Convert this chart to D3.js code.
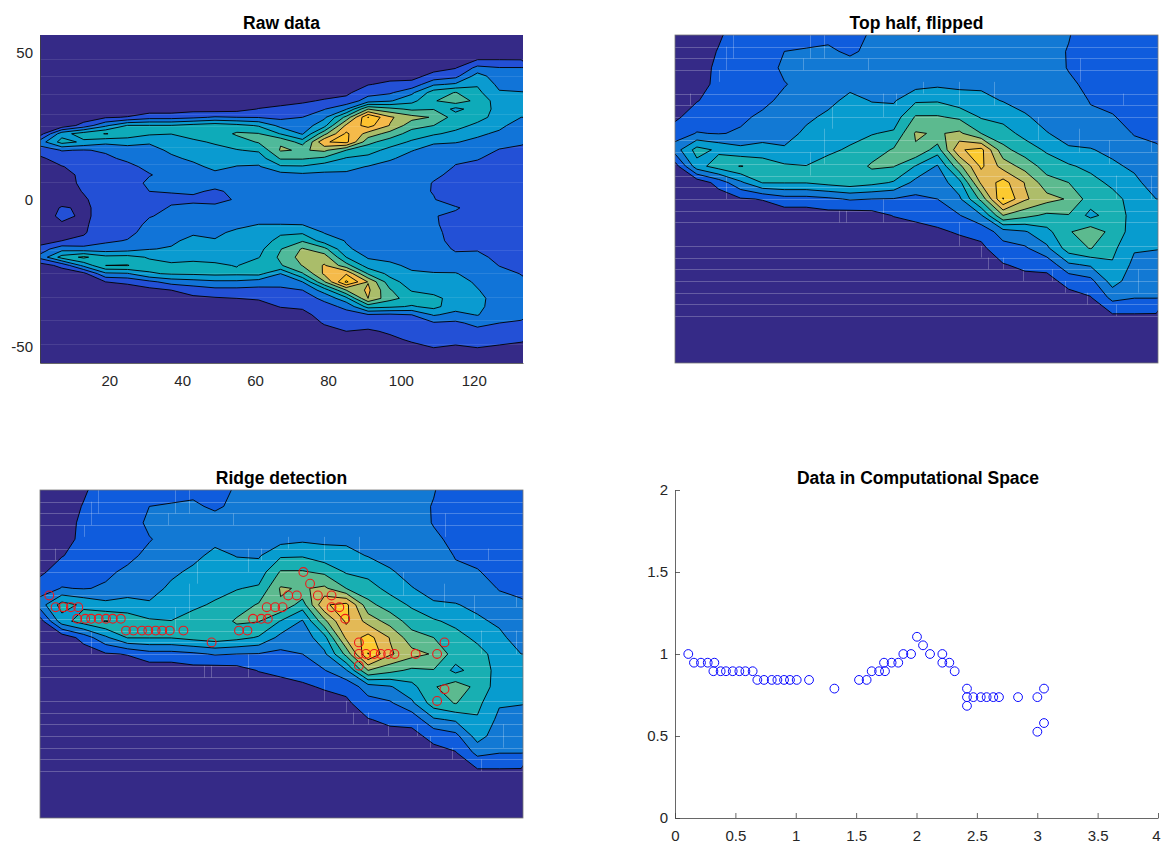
<!DOCTYPE html>
<html>
<head>
<meta charset="utf-8">
<script src="https://cdn.jsdelivr.net/npm/d3@7"></script>
<style>
    body { margin: 0; background: #fff; }
    svg { display: block; font-family: "Liberation Sans", Arial, sans-serif; }
    .title { font-size: 17.5px; font-weight: bold; text-anchor: middle; fill: #000; }
    .axis text { font-size: 15px; fill: #262626; }
    .axis path, .axis line { stroke: #404040; stroke-width: 0.8; }
</style>
</head>
<body>
<div id="chart"></div>
<script>
// Contour heights per column, x = 1, 7, 13 ... 133. Each column runs from y = 0 upward in steps of 2.8
const top_half_columns = [
    [.4,.4,.4,.3,.5,.8,1.5,2.5,.5],
    [.5,.6,.6,.7,.95,1.5,2.05,4.4,3.6,.3],
    [.9,1.05,1.2,1.2,1.4,1.7,1.95,3.8,4.5,1.4,.4],
    [1.4,1.4,1.5,1.6,1.7,1.85,2.1,3.3,5.05,2.8,.9,.3],
    [1.4,1.45,1.5,1.6,1.8,2.15,2.5,3.4,4.6,4.05,1.05,.4],
    [1.7,2.0,2.2,1.95,2.2,2.4,2.7,3.1,4.15,4.05,1.6,.4],
    [1.8,2.05,2.2,2.3,2.5,2.85,3.15,3.5,4.02,4.05,1.6,.4],
    [1.85,2.1,2.3,2.5,2.8,3.15,3.4,3.85,4.3,4.35,1.8,.6],
    [1.7,1.9,2.25,2.8,3.2,3.4,3.75,4.1,4.4,4.6,2.1,.5],
    [2.1,2.15,2.3,2.6,2.97,3.3,3.95,4.5,5.15,4.3,2.0,.6],
    [2.1,2.2,2.4,2.65,2.9,3.45,4.15,5.1,5.05,3.9,1.95,1.05,.4],
    [2.2,2.25,2.45,2.6,3.85,5.1,6.1,5.9,3.95,2.7,1.75,1.2,.7,.4],
    [2.2,2.3,2.5,2.8,3.9,5.1,5.9,4.5,2.9,2.4,2.0,1.4,.85,.4],
    [2.2,2.3,2.5,2.8,3.4,4.8,6.2,7.9,5.7,3.65,2.8,1.95,1.1,.6,.3],
    [2.2,2.3,2.5,2.8,3.3,3.9,5.0,8.3,8.2,7.2,5.3,2.9,1.3,.8,.4],
    [2.3,2.4,2.55,2.75,2.95,3.7,4.4,5.3,6.6,8.4,9.05,6.0,2.5,1.6,.95,.4],
    [2.3,2.4,2.5,2.65,2.85,3.05,3.7,4.5,5.6,6.95,7.15,5.3,2.9,1.85,1.2,.7,.4],
    [2.25,2.3,2.4,2.55,2.7,2.85,3.02,3.85,4.55,5.4,6.35,4.8,3.7,2.8,1.3,.7,.4],
    [2.05,1.95,1.95,2.15,2.45,2.7,2.85,3.05,4.15,5.0,5.9,4.95,4.9,4.5,2.85,1.3,.7,.3],
    [1.5,1.6,1.7,1.8,1.95,2.15,2.55,3.05,3.7,4.4,4.5,3.7,5.6,5.05,3.15,1.7,.95,.4],
    [1.4,1.45,1.5,1.6,1.8,2.05,2.4,2.8,3.15,3.75,4.4,4.5,4.7,4.25,3.9,3.45,2.3,1.0,.4],
    [1.3,1.35,1.4,1.45,1.55,1.75,1.95,2.3,2.85,3.2,3.55,3.7,3.5,3.1,2.75,2.4,2.05,1.0,.4],
    [1.2,1.25,1.3,1.35,1.45,1.6,1.85,2.1,2.3,2.6,3.0,3.2,3.15,3.05,2.6,2.3,2.05,.98,.4]
];

// Same columns for the lower half, from y = -2.8 downward
const bottom_half_columns = [
    [.3,.3,.3,.3,.4,1.5,2.3,.5],
    [1.1,1.3,.85,.7,1.0,2.6,4.4,1.3,.4],
    [.85,.8,.85,.9,1.2,2.4,5.2,3.3,.7],
    [1.3,1.4,1.5,1.6,1.85,2.4,4.3,5.0,2.8,1.0,.5],
    [1.35,1.45,1.55,1.75,2.05,2.55,4.35,5.05,2.9,1.2,.5],
    [1.6,1.95,2.2,2.35,2.6,2.95,3.9,4.35,3.9,1.75,.7,.4],
    [2.1,2.2,2.35,2.5,2.8,3.1,3.6,4.2,4.1,2.4,1.0,.5],
    [2.2,2.3,2.5,2.85,3.3,3.5,3.75,4.25,4.15,2.6,1.4,.8,.4],
    [2.25,2.4,2.6,2.85,3.05,3.4,3.7,4.15,4.25,2.8,1.7,.9,.4],
    [2.35,2.5,2.8,3.15,3.3,3.5,3.7,3.95,4.2,2.8,1.7,1.0,.5],
    [2.5,2.7,3.0,3.3,3.5,3.7,3.95,4.6,4.3,2.5,1.7,1.1,.6],
    [2.6,2.8,3.0,3.85,4.3,4.95,5.2,4.9,3.0,2.35,1.8,1.4,1.05,.5],
    [2.5,2.8,2.95,3.85,4.9,6.1,6.4,6.05,4.9,3.0,2.0,1.6,1.15,.7],
    [2.7,2.8,2.85,2.95,3.5,5.3,6.5,7.1,7.2,5.9,3.5,2.2,1.7,1.4,1.1,.6],
    [2.5,2.6,2.7,2.8,2.95,3.1,4.0,5.4,7.9,9.2,6.0,3.7,2.2,1.7,1.3,1.0,.5],
    [2.3,2.35,2.45,2.55,2.65,2.75,2.9,3.5,4.9,6.95,7.2,7.0,4.4,1.9,1.3,.9,.5],
    [2.1,2.15,2.2,2.3,2.45,2.6,2.8,3.15,3.7,4.4,5.1,5.3,4.2,1.8,1.4,1.1,.85,.4],
    [2.0,2.05,2.1,2.2,2.3,2.45,2.6,2.85,3.1,3.5,3.9,4.6,3.9,2.0,1.6,1.3,1.1,.8,.4],
    [2.05,2.05,2.05,2.1,2.1,2.2,2.4,2.7,3.05,3.4,3.75,4.2,4.3,3.1,1.9,1.5,1.2,1.0,.5,.3],
    [2.1,1.8,1.85,1.85,1.9,1.95,2.1,2.6,3.05,3.4,3.6,3.7,3.4,2.7,1.8,1.5,1.2,.9,.5,.3],
    [1.6,1.65,1.7,1.75,1.8,1.95,2.15,2.4,2.65,2.85,3.05,3.25,3.2,3.05,2.3,1.7,1.4,1.0,.5,.35],
    [1.4,1.45,1.5,1.55,1.6,1.7,1.85,1.98,2.2,2.35,2.5,2.6,2.6,2.4,2.0,1.6,1.2,.9,.5,.35],
    [1.3,1.3,1.35,1.4,1.5,1.6,1.7,1.8,1.98,2.1,2.2,2.25,2.2,2.1,1.95,1.6,1.1,.8,.5,.3]
];

const contour_levels = [1, 2, 3, 4, 5, 6, 7, 8, 9];
const raw_colors = ["#2350d6", "#1174d8", "#0a9bd0", "#0eabb9", "#4fb99a", "#aabd6a", "#f5ba4a", "#fdc22f", "#f8dc24"];
const half_colors = ["#0f5cdd", "#1279d4", "#079ccf", "#18afb2", "#5cba8f", "#aebd6a", "#e3b956", "#fcca30", "#f5e61e"];

// Faint seams left in the image, y values of the rows that show one
const seam_rows = [2, 4, 6, 10, 12, 14, 18, 20, 22, 24, 26, 28, 30, 32, 36, 38, 40, 42, 44, 46, 48];
const raw_seam_rows = [48, 42, 36, 29, 25, 18, 12, 6, -9, -17, -25, -33, -41, -49];
const seam_cols = [[5,10,12],[13,6,8],[15,2,6],[17,0,4],[36,4,6],[38,0,4],[42,0,4],[44,12,16],[54,4,6],[58,10,14],
    [61.5,10,12],[15,24,28],[46,30,32],[48,30,32],[58,28,32],[42,16,22],[38,20,24],[79,8,12],[88.6,8,12],[69,8,10],
    [112,4,8],[100.5,14,18],[111.7,16,20],[120,18,22],[122,24,28],[131.5,18,20],[131.5,24,28],[79,32,36],[85,36,38],
    [87,38,40],[91,38,40],[96.6,40,42],[104.5,40,42],[108,42,44],[114,44,46],[122,46,48],[128,40,44],[124,10,12]];

// Ridge points in computational space
const comp_x = [.110,.157,.215,.271,.326,.318,.378,.422,.478,.533,.583,.643,.682,.737,.801,.848,.903,.952,1.008,1.110,
    1.320,1.524,1.587,1.629,1.690,1.739,1.731,1.794,1.849,1.891,1.955,2.004,2.054,2.112,2.214,2.214,2.272,2.316,
    2.418,2.418,2.418,2.471,2.532,2.581,2.636,2.683,2.841,3.001,3.056,3.001,3.056];
const comp_y = [1,.947,.947,.947,.947,.895,.895,.895,.895,.895,.895,.895,.842,.842,.842,.842,.842,.842,.842,.842,
    .789,.842,.842,.895,.895,.895,.947,.947,.947,1,1,1.105,1.053,1,1,.947,.947,.895,
    .789,.737,.684,.737,.737,.737,.737,.737,.737,.737,.789,.526,.579];

const raw_x_ticks = [20, 40, 60, 80, 100, 120];
const raw_y_ticks = [50, 0, -50];
const comp_x_ticks = [0, .5, 1, 1.5, 2, 2.5, 3, 3.5, 4];
const comp_y_ticks = [0, .5, 1, 1.5, 2];

const GRID_X0 = 1, GRID_DX = 6, GRID_DY = 2.8, FLOOR = 0.3;
const TOP_ROWS = 21, BOTTOM_ROWS = 20;
const pad_column = (col, rows) => col.concat(d3.range(rows - col.length).map(() => FLOOR));

const top_cols = top_half_columns.map(c => pad_column(c, TOP_ROWS));
const bottom_cols = bottom_half_columns.map(c => pad_column(c, BOTTOM_ROWS));
const n_cols = top_cols.length;

// flat row-major values as d3.contours wants them
const half_values = [];
d3.range(TOP_ROWS).forEach(r => top_cols.forEach(c => half_values.push(c[r])));
const full_values = [];
d3.range(TOP_ROWS - 1, -1, -1).forEach(r => top_cols.forEach(c => full_values.push(c[r])));
d3.range(BOTTOM_ROWS).forEach(r => bottom_cols.forEach(c => full_values.push(c[r])));

const svg = d3.select("#chart").append("svg").attr("width", 1161).attr("height", 844);

function draw_contour_panel(opts) {
    const x = d3.scaleLinear().domain([1, 133.5]).range([opts.left, opts.left + 483]);
    const y = d3.scaleLinear().domain(opts.y_domain).range([opts.top, opts.top + 328]);
    const rows = opts.values.length / n_cols;

    const clip_id = "clip-" + opts.name;
    svg.append("clipPath").attr("id", clip_id).append("rect")
        .attr("x", opts.left).attr("y", opts.top).attr("width", 483).attr("height", 328);

    const g = svg.append("g").attr("clip-path", "url(#" + clip_id + ")");
    g.append("rect").attr("x", opts.left).attr("y", opts.top).attr("width", 483).attr("height", 328).attr("fill", "#352a87");

    const path = d3.geoPath(d3.geoTransform({
        point: function (cx, cy) {
            const data_x = GRID_X0 + GRID_DX * (cx - 0.5);
            const data_y = opts.first_y + opts.step_y * (cy - 0.5);
            this.stream.point(x(data_x), y(data_y));
        }
    }));

    const bands = d3.contours().size([n_cols, rows]).thresholds(contour_levels)(opts.values);

    g.append("g").selectAll("path").data(bands).enter().append("path")
        .attr("d", path)
        .attr("fill", (d, i) => opts.colors[i]);

    // the seams sit between the fill and the contour lines
    const seams = g.append("g").attr("stroke", "#fff").attr("stroke-opacity", opts.seam_opacity).attr("stroke-width", 1);
    seams.selectAll("line.row").data(opts.seam_rows).enter().append("line")
        .attr("class", "row")
        .attr("x1", opts.left).attr("x2", opts.left + 483)
        .attr("y1", d => Math.round(y(d)) + 0.5).attr("y2", d => Math.round(y(d)) + 0.5);
    seams.selectAll("line.col").data(opts.seam_cols).enter().append("line")
        .attr("class", "col")
        .attr("x1", d => Math.round(x(d[0])) + 0.5).attr("x2", d => Math.round(x(d[0])) + 0.5)
        .attr("y1", d => y(d[1])).attr("y2", d => y(d[2]));

    g.append("g").selectAll("path").data(bands).enter().append("path")
        .attr("d", path)
        .attr("fill", "none")
        .attr("stroke", "#000")
        .attr("stroke-width", 0.9)
        .attr("stroke-linejoin", "round");

    svg.append("text").attr("class", "title")
        .attr("x", opts.left + 241.5).attr("y", opts.top - 6).text(opts.title);

    return { x: x, y: y };
}

// Raw data
const raw = draw_contour_panel({
    name: "raw", left: 40, top: 35, y_domain: [56, -55.6], values: full_values,
    first_y: 56, step_y: -GRID_DY, colors: raw_colors, title: "Raw data",
    seam_rows: raw_seam_rows, seam_cols: [], seam_opacity: 0.1
});
svg.append("g").attr("class", "axis").attr("transform", "translate(0,363)")
    .call(d3.axisBottom(raw.x).tickValues(raw_x_ticks).tickSize(0).tickPadding(12))
    .call(g => g.select(".domain").attr("stroke", "#aaa"));
svg.append("g").attr("class", "axis").attr("transform", "translate(40,0)")
    .call(d3.axisLeft(raw.y).tickValues(raw_y_ticks).tickSize(0).tickPadding(7).tickFormat(d => String(d)))
    .call(g => g.select(".domain").attr("stroke", "#aaa"));

// Top half, flipped
draw_contour_panel({
    name: "flipped", left: 675, top: 35, y_domain: [0, 56], values: half_values,
    first_y: 0, step_y: GRID_DY, colors: half_colors, title: "Top half, flipped",
    seam_rows: seam_rows, seam_cols: seam_cols, seam_opacity: 0.24
});
svg.append("rect").attr("x", 675).attr("y", 35).attr("width", 483).attr("height", 328)
    .attr("fill", "none").attr("stroke", "#777").attr("stroke-width", 0.8);

// Ridge detection
const ridge = draw_contour_panel({
    name: "ridge", left: 40, top: 490, y_domain: [0, 56], values: half_values,
    first_y: 0, step_y: GRID_DY, colors: half_colors, title: "Ridge detection",
    seam_rows: seam_rows, seam_cols: seam_cols, seam_opacity: 0.24
});
svg.append("rect").attr("x", 40).attr("y", 490).attr("width", 483).attr("height", 328)
    .attr("fill", "none").attr("stroke", "#777").attr("stroke-width", 0.8);

const ridge_points = comp_x.map((d, i) => ({ col: 36.8 * d - 0.5, row: 18 + 38 * (1 - comp_y[i]) }));
svg.append("g").selectAll("circle").data(ridge_points).enter().append("circle")
    .attr("cx", d => ridge.x(d.col))
    .attr("cy", d => ridge.y(d.row))
    .attr("r", 4.4)
    .attr("fill", "none")
    .attr("stroke", "#f01818")
    .attr("stroke-width", 1.1);

// Data in Computational Space
const comp_scale_x = d3.scaleLinear().domain([0, 4]).range([675, 1158]);
const comp_scale_y = d3.scaleLinear().domain([0, 2]).range([818, 490]);
svg.append("g").attr("class", "axis").attr("transform", "translate(0,818)")
    .call(d3.axisBottom(comp_scale_x).tickValues(comp_x_ticks).tickFormat(d3.format("~g")).tickSizeInner(-5).tickSizeOuter(0).tickPadding(12))
    // last label would run off the page otherwise
    .call(g => g.selectAll(".tick text").filter(d => d === 4).attr("dx", -2));
svg.append("g").attr("class", "axis").attr("transform", "translate(675,0)")
    .call(d3.axisLeft(comp_scale_y).tickValues(comp_y_ticks).tickFormat(d3.format("~g")).tickSizeInner(-5).tickSizeOuter(0).tickPadding(7));
svg.append("g").selectAll("circle").data(comp_x).enter().append("circle")
    .attr("cx", d => comp_scale_x(d))
    .attr("cy", (d, i) => comp_scale_y(comp_y[i]))
    .attr("r", 4.4)
    .attr("fill", "none")
    .attr("stroke", "#0a0aff")
    .attr("stroke-width", 1);
svg.append("text").attr("class", "title").attr("x", 918).attr("y", 484).text("Data in Computational Space");
</script>
</body>
</html>
